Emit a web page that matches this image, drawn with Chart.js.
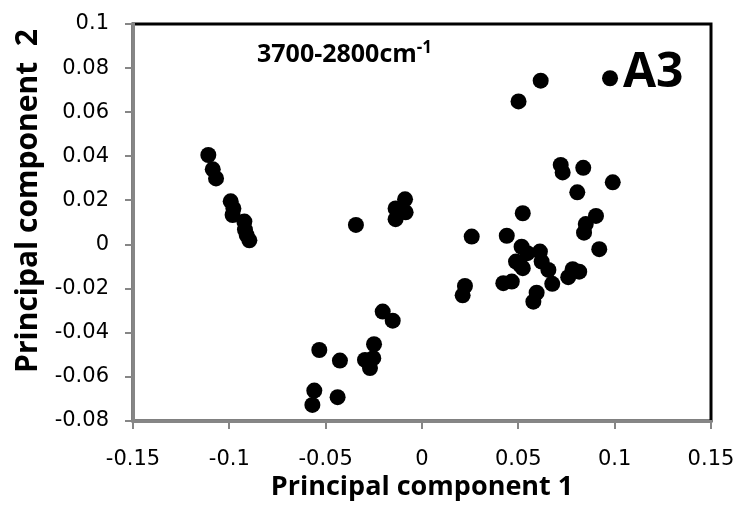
<!DOCTYPE html>
<html>
<head>
<meta charset="utf-8">
<script src="https://cdn.jsdelivr.net/npm/chart.js@4.4.1/dist/chart.umd.min.js"></script>
<style>
  html, body { margin: 0; padding: 0; background: #fff; }
  canvas { display: block; }
</style>
</head>
<body>
<canvas id="chart" width="740" height="517"></canvas>
<script>
// scores (PC1, PC2)
const pc1 = [
  -0.1109, -0.1086, -0.1069, -0.0993, -0.0979, -0.0983, -0.0922, -0.0919, -0.0910, -0.0896,
  -0.0343, -0.0137, -0.0088, -0.0085, -0.0137,
  -0.0204, -0.0152, -0.0249, -0.0296, -0.0253, -0.0270,
  -0.0533, -0.0426, -0.0559, -0.0569, -0.0438,
  0.0720, 0.0730, 0.0837, 0.0990, 0.0806, 0.0523, 0.0903, 0.0850, 0.0841,
  0.0258, 0.0440, 0.0517, 0.0547, 0.0612, 0.0488, 0.0509, 0.0523, 0.0621, 0.0656,
  0.0920, 0.0782, 0.0816, 0.0759, 0.0676, 0.0422, 0.0466, 0.0223, 0.0211, 0.0595, 0.0578,
  0.0501, 0.0616, 0.0976
];
const pc2 = [
  0.0406, 0.0341, 0.0300, 0.0196, 0.0164, 0.0134, 0.0104, 0.0068, 0.0043, 0.0019,
  0.0089, 0.0164, 0.0205, 0.0146, 0.0115,
  -0.0304, -0.0345, -0.0452, -0.0523, -0.0515, -0.0560,
  -0.0478, -0.0526, -0.0662, -0.0727, -0.0692,
  0.0361, 0.0327, 0.0348, 0.0282, 0.0237, 0.0142, 0.0130, 0.0093, 0.0054,
  0.0036, 0.0040, -0.0010, -0.0039, -0.0032, -0.0077, -0.0092, -0.0107, -0.0077, -0.0115,
  -0.0021, -0.0112, -0.0123, -0.0148, -0.0178, -0.0175, -0.0168, -0.0188, -0.0230, -0.0218, -0.0259,
  0.0649, 0.0743, 0.0754
];

const xTicks = [-0.15, -0.1, -0.05, 0, 0.05, 0.1, 0.15];
const yTicks = [-0.08, -0.06, -0.04, -0.02, 0, 0.02, 0.04, 0.06, 0.08, 0.1];

const xTitle = 'Principal component 1';
const yTitle = 'Principal component  2';
const rangeLabel = '3700-2800cm';
const rangeSup = '-1';
const panelLabel = 'A3';

const axisGrey = '#868686';
const tickFont = { family: 'DejaVu Sans', size: 21 };

const points = pc1.map((x, i) => ({ x: x, y: pc2[i] }));

// black plot-area frame under the grey axes, plus the free text
const decorations = {
    id: 'decorations',
    beforeDraw(chart) {
        const { ctx, chartArea: a } = chart;
        ctx.save();
        ctx.strokeStyle = '#000';
        ctx.lineWidth = 3;
        ctx.strokeRect(a.left, a.top, a.right - a.left, a.bottom - a.top);
        ctx.restore();
    },
    afterDraw(chart) {
        const ctx = chart.ctx;
        ctx.save();
        ctx.fillStyle = '#000';

        // y axis title
        ctx.translate(37, 201);
        ctx.rotate(-Math.PI / 2);
        ctx.font = 'bold 30px "Open Sans"';
        ctx.textAlign = 'center';
        ctx.textBaseline = 'alphabetic';
        ctx.fillText(yTitle, 0, 0);
        ctx.setTransform(1, 0, 0, 1, 0, 0);

        // wavenumber range
        ctx.textAlign = 'left';
        ctx.font = 'bold 25px "Open Sans"';
        ctx.fillText(rangeLabel, 257, 62);
        const w = ctx.measureText(rangeLabel).width;
        ctx.font = 'bold 17px "Open Sans"';
        ctx.fillText(rangeSup, 257 + w, 53);

        // panel label
        ctx.font = 'bold 48px "Open Sans"';
        ctx.fillText(panelLabel, 623, 87);
        ctx.restore();
    }
};

new Chart(document.getElementById('chart').getContext('2d'), {
    type: 'scatter',
    data: {
        datasets: [{
            data: points,
            backgroundColor: '#000',
            borderColor: '#000',
            pointRadius: 8,
            pointHoverRadius: 8,
            borderWidth: 0
        }]
    },
    options: {
        responsive: false,
        devicePixelRatio: 1,
        animation: false,
        layout: { padding: { top: 24, right: 29, left: 0, bottom: 0 } },
        plugins: {
            legend: { display: false },
            tooltip: { enabled: false }
        },
        scales: {
            x: {
                type: 'linear',
                min: -0.15,
                max: 0.15,
                afterBuildTicks: (scale) => { scale.ticks = xTicks.map(v => ({ value: v })); },
                afterFit: (scale) => {
                    scale.height = 96;
                    scale.paddingLeft = 0;
                    scale.paddingRight = 0;
                },
                ticks: {
                    font: tickFont,
                    color: '#000',
                    padding: 18,
                    maxRotation: 0,
                    callback: (v) => String(Math.round(v * 100) / 100)
                },
                grid: { drawOnChartArea: false, drawTicks: true, tickLength: 8, color: axisGrey, lineWidth: 2 },
                border: { display: true, color: axisGrey, width: 3 },
                title: {
                    display: true,
                    text: xTitle,
                    color: '#000',
                    font: { family: 'Open Sans', weight: 'bold', size: 27 },
                    padding: { top: 0, bottom: 13 }
                }
            },
            y: {
                type: 'linear',
                min: -0.08,
                max: 0.1,
                afterBuildTicks: (scale) => { scale.ticks = yTicks.map(v => ({ value: v })); },
                afterFit: (scale) => {
                    scale.width = 133;
                    scale.paddingTop = 0;
                    scale.paddingBottom = 0;
                },
                ticks: {
                    font: tickFont,
                    color: '#000',
                    padding: 16,
                    callback: (v) => String(Math.round(v * 100) / 100)
                },
                grid: { drawOnChartArea: false, drawTicks: true, tickLength: 8, color: axisGrey, lineWidth: 2 },
                border: { display: true, color: axisGrey, width: 3 }
            }
        }
    },
    plugins: [decorations]
});
</script>
</body>
</html>
